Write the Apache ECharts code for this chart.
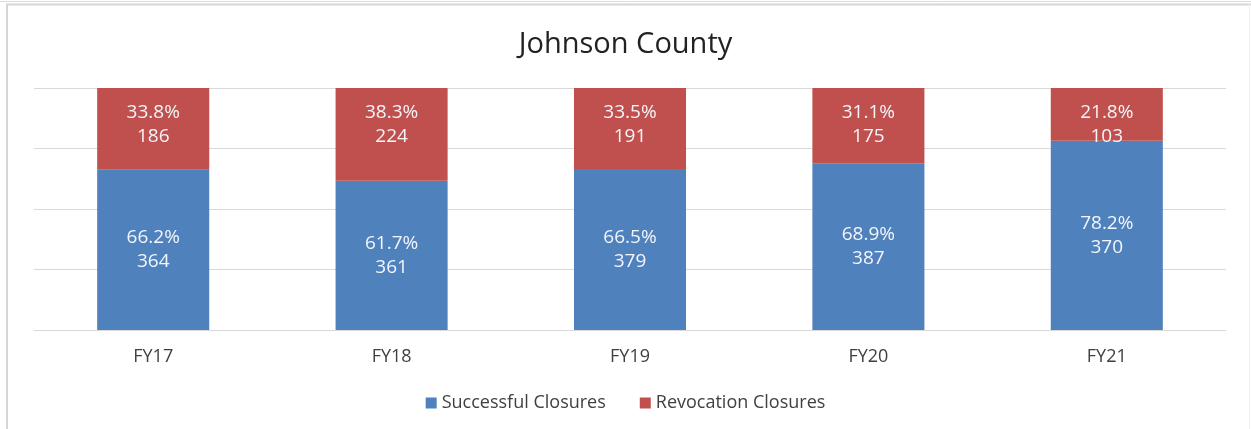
<!DOCTYPE html>
<html lang="en">
<head>
    <meta charset="UTF-8">
    <title>Johnson County</title>
    <script src="https://cdn.jsdelivr.net/npm/echarts@6.0.0/dist/echarts.min.js"></script>
    <style>
        body { margin: 0; background: #fff; }
    </style>
</head>
<body>
    <div id="main" style="width: 1251px;height:429px;"></div>
    <script type="text/javascript">
      // data
      var years = ['FY17', 'FY18', 'FY19', 'FY20', 'FY21'];
      var successCounts = [364, 361, 379, 387, 370];
      var revokeCounts = [186, 224, 191, 175, 103];
      var successPct = [66.2, 61.7, 66.5, 68.9, 78.2];
      var revokePct = [33.8, 38.3, 33.5, 31.1, 21.8];

      var myChart = echarts.init(document.getElementById('main'));

      var labelFont = {
        color: '#f2f5fa',
        fontSize: 19,
        lineHeight: 24,
        fontFamily: 'Open Sans'
      };

      var option = {
        animation: false,
        title: {
          text: 'Johnson County',
          left: 'center',
          top: 25,
          textStyle: { fontSize: 29, fontWeight: 'normal', color: '#222', fontFamily: 'Open Sans' }
        },
        // outer frame like the pasted Excel chart
        graphic: [
          { type: 'line', shape: { x1: 0, y1: 1.5, x2: 1251, y2: 1.5 }, style: { stroke: '#dcdcdc', lineWidth: 1 } },
          { type: 'line', shape: { x1: 6, y1: 4.5, x2: 1251, y2: 4.5 }, style: { stroke: '#d6d6d6', lineWidth: 2 } },
          { type: 'line', shape: { x1: 7, y1: 4, x2: 7, y2: 429 }, style: { stroke: '#d6d6d6', lineWidth: 2 } },
          { type: 'line', shape: { x1: 1249.5, y1: 4, x2: 1249.5, y2: 429 }, style: { stroke: '#f0f0f0', lineWidth: 1 } }
        ],
        legend: {
          bottom: 12,
          left: 'center',
          itemWidth: 11,
          itemHeight: 11,
          itemGap: 34,
          icon: 'rect',
          textStyle: { fontSize: 18, color: '#404040', fontFamily: 'Open Sans' },
          data: ['Successful Closures', 'Revocation Closures']
        },
        grid: { left: 34, right: 25, top: 88, bottom: 99 },
        xAxis: {
          type: 'category',
          data: years,
          axisLine: { lineStyle: { color: '#d9d9d9' } },
          axisTick: { show: false },
          axisLabel: { fontSize: 18, color: '#404040', margin: 18, fontFamily: 'Open Sans' }
        },
        yAxis: {
          type: 'value',
          min: 0,
          max: 100,
          interval: 25,
          axisLabel: { show: false },
          splitLine: { lineStyle: { color: '#d9d9d9' } }
        },
        series: [
          {
            name: 'Successful Closures',
            type: 'bar',
            stack: 'total',
            barWidth: '47%',
            itemStyle: { color: '#4f81bd' },
            label: Object.assign({
              show: true,
              position: 'inside',
              formatter: function (p) { return successPct[p.dataIndex].toFixed(1) + '%\n' + successCounts[p.dataIndex]; }
            }, labelFont),
            data: successPct
          },
          {
            name: 'Revocation Closures',
            type: 'bar',
            stack: 'total',
            itemStyle: { color: '#c0504d' },
            label: Object.assign({
              show: true,
              position: 'insideTop',
              distance: 13,
              formatter: function (p) { return revokePct[p.dataIndex].toFixed(1) + '%\n' + revokeCounts[p.dataIndex]; }
            }, labelFont),
            data: revokePct
          }
        ]
      };

      myChart.setOption(option);
    </script>
</body>
</html>
